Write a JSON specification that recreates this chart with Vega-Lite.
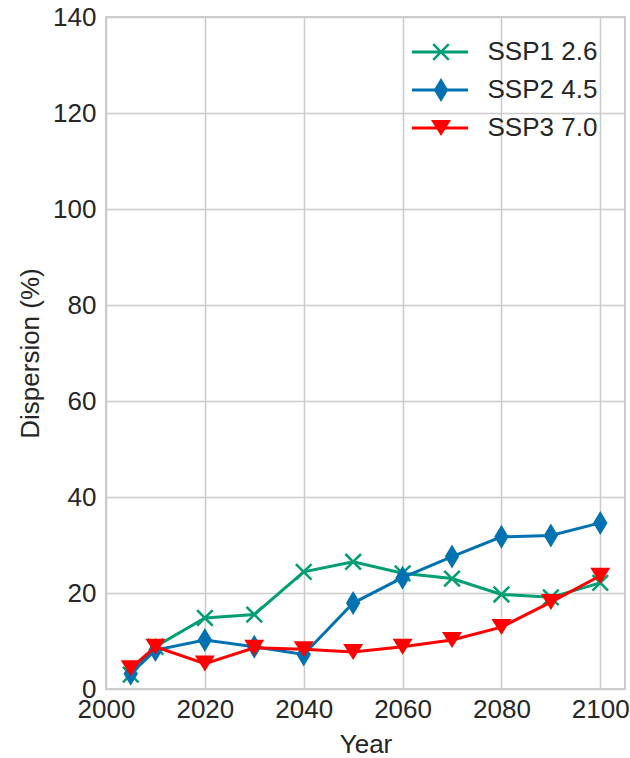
{
  "$schema": "https://vega.github.io/schema/vega-lite/v6.json",
  "width": 519,
  "height": 672,
  "autosize": {"type": "none"},
  "padding": {"left": 106, "top": 17, "right": 5, "bottom": 69},
  "background": "white",
  "title": {"text": "Qatar", "fontSize": 26, "font": "Liberation Sans", "fontWeight": "normal", "color": "#262626", "baseline": "alphabetic", "offset": 13, "anchor": "middle"},
  "config": {
    "view": {"stroke": "#cccccc", "strokeWidth": 2},
    "axis": {"domain": false, "ticks": false, "grid": true, "gridColor": "#cccccc", "gridWidth": 1.6, "labelFont": "Liberation Sans", "labelFontSize": 26, "labelColor": "#262626", "titleFont": "Liberation Sans", "titleFontSize": 26, "titleFontWeight": "normal", "titleColor": "#262626", "labelFlush": false, "labelOverlap": false},
    "legend": {"labelFont": "Liberation Sans", "labelFontSize": 26, "labelColor": "#262626", "padding": 0, "title": null}
  },
  "data": {"values": [
    {"series": "SSP1 2.6", "year": 2005, "value": 3.0},
    {"series": "SSP1 2.6", "year": 2010, "value": 8.8},
    {"series": "SSP1 2.6", "year": 2020, "value": 14.8},
    {"series": "SSP1 2.6", "year": 2030, "value": 15.5},
    {"series": "SSP1 2.6", "year": 2040, "value": 24.4},
    {"series": "SSP1 2.6", "year": 2050, "value": 26.5},
    {"series": "SSP1 2.6", "year": 2060, "value": 24.1},
    {"series": "SSP1 2.6", "year": 2070, "value": 23.0},
    {"series": "SSP1 2.6", "year": 2080, "value": 19.7},
    {"series": "SSP1 2.6", "year": 2090, "value": 19.1},
    {"series": "SSP1 2.6", "year": 2100, "value": 22.1},
    {"series": "SSP2 4.5", "year": 2005, "value": 3.2},
    {"series": "SSP2 4.5", "year": 2010, "value": 8.1},
    {"series": "SSP2 4.5", "year": 2020, "value": 10.2},
    {"series": "SSP2 4.5", "year": 2030, "value": 8.8},
    {"series": "SSP2 4.5", "year": 2040, "value": 7.2},
    {"series": "SSP2 4.5", "year": 2050, "value": 17.9},
    {"series": "SSP2 4.5", "year": 2060, "value": 23.2},
    {"series": "SSP2 4.5", "year": 2070, "value": 27.6},
    {"series": "SSP2 4.5", "year": 2080, "value": 31.7},
    {"series": "SSP2 4.5", "year": 2090, "value": 32.0},
    {"series": "SSP2 4.5", "year": 2100, "value": 34.6},
    {"series": "SSP3 7.0", "year": 2005, "value": 4.3},
    {"series": "SSP3 7.0", "year": 2010, "value": 8.8},
    {"series": "SSP3 7.0", "year": 2020, "value": 5.3},
    {"series": "SSP3 7.0", "year": 2030, "value": 8.6},
    {"series": "SSP3 7.0", "year": 2040, "value": 8.3},
    {"series": "SSP3 7.0", "year": 2050, "value": 7.7},
    {"series": "SSP3 7.0", "year": 2060, "value": 8.8},
    {"series": "SSP3 7.0", "year": 2070, "value": 10.2},
    {"series": "SSP3 7.0", "year": 2080, "value": 12.9},
    {"series": "SSP3 7.0", "year": 2090, "value": 18.1},
    {"series": "SSP3 7.0", "year": 2100, "value": 23.6}
  ]},
  "encoding": {
    "x": {"field": "year", "type": "quantitative", "scale": {"domain": [2000, 2105], "nice": false, "zero": false}, "axis": {"title": "Year", "values": [2000, 2020, 2040, 2060, 2080, 2100], "format": "d", "labelPadding": 7, "titlePadding": 9}},
    "y": {"field": "value", "type": "quantitative", "scale": {"domain": [0, 140], "nice": false}, "axis": {"title": "Dispersion (%)", "values": [0, 20, 40, 60, 80, 100, 120, 140], "labelPadding": 10, "titlePadding": 9}}
  },
  "layer": [
    {
      "transform": [{"filter": "datum.series === 'SSP1 2.6'"}],
      "mark": {"type": "point", "filled": true, "size": 576, "opacity": 1, "strokeWidth": 0},
      "encoding": {
        "fill": {"field": "series", "type": "nominal", "scale": {"domain": ["SSP1 2.6", "SSP2 4.5", "SSP3 7.0"], "range": ["#009E73", "#0072B2", "#ff0000"]}, "legend": {"orient": "top-right", "offset": 19, "clipHeight": 32, "rowPadding": 6, "symbolSize": 576, "symbolStrokeWidth": 0, "labelOffset": 42, "labelColor": "transparent"}},
        "shape": {"field": "series", "type": "nominal", "scale": {"domain": ["SSP1 2.6", "SSP2 4.5", "SSP3 7.0"], "range": ["M-0.576,-0.724L0.724,0.576L0.576,0.724L-0.724,-0.576ZM-0.724,0.576L0.576,-0.724L0.724,-0.576L-0.576,0.724Z", "M0,-1L0.6,0L0,1L-0.6,0Z", "M-0.833,-0.667L0.833,-0.667L0,0.667Z"]}, "legend": {"orient": "top-right", "offset": 19, "clipHeight": 32, "rowPadding": 6, "symbolSize": 576, "symbolStrokeWidth": 0, "labelOffset": 42, "labelColor": "transparent"}}
      }
    },
    {
      "transform": [{"filter": "datum.series === 'SSP1 2.6'"}],
      "mark": {"type": "line", "strokeWidth": 3},
      "encoding": {
        "stroke": {"field": "series", "type": "nominal", "scale": {"domain": ["SSP1 2.6", "SSP2 4.5", "SSP3 7.0"], "range": ["#009E73", "#0072B2", "#ff0000"]}, "legend": {"orient": "none", "legendX": 304.5, "legendY": 19, "clipHeight": 32, "rowPadding": 6, "symbolType": "stroke", "symbolSize": 3136, "symbolStrokeWidth": 3, "labelOffset": 18}}
      }
    },
    {
      "transform": [{"filter": "datum.series === 'SSP2 4.5'"}],
      "mark": {"type": "line", "strokeWidth": 3},
      "encoding": {
        "stroke": {"field": "series", "type": "nominal", "scale": {"domain": ["SSP1 2.6", "SSP2 4.5", "SSP3 7.0"], "range": ["#009E73", "#0072B2", "#ff0000"]}, "legend": {"orient": "none", "legendX": 304.5, "legendY": 19, "clipHeight": 32, "rowPadding": 6, "symbolType": "stroke", "symbolSize": 3136, "symbolStrokeWidth": 3, "labelOffset": 18}}
      }
    },
    {
      "transform": [{"filter": "datum.series === 'SSP2 4.5'"}],
      "mark": {"type": "point", "filled": true, "size": 576, "opacity": 1, "strokeWidth": 0},
      "encoding": {
        "fill": {"field": "series", "type": "nominal", "scale": {"domain": ["SSP1 2.6", "SSP2 4.5", "SSP3 7.0"], "range": ["#009E73", "#0072B2", "#ff0000"]}, "legend": {"orient": "top-right", "offset": 19, "clipHeight": 32, "rowPadding": 6, "symbolSize": 576, "symbolStrokeWidth": 0, "labelOffset": 42, "labelColor": "transparent"}},
        "shape": {"field": "series", "type": "nominal", "scale": {"domain": ["SSP1 2.6", "SSP2 4.5", "SSP3 7.0"], "range": ["M-0.576,-0.724L0.724,0.576L0.576,0.724L-0.724,-0.576ZM-0.724,0.576L0.576,-0.724L0.724,-0.576L-0.576,0.724Z", "M0,-1L0.6,0L0,1L-0.6,0Z", "M-0.833,-0.667L0.833,-0.667L0,0.667Z"]}, "legend": {"orient": "top-right", "offset": 19, "clipHeight": 32, "rowPadding": 6, "symbolSize": 576, "symbolStrokeWidth": 0, "labelOffset": 42, "labelColor": "transparent"}}
      }
    },
    {
      "transform": [{"filter": "datum.series === 'SSP3 7.0'"}],
      "mark": {"type": "line", "strokeWidth": 3},
      "encoding": {
        "stroke": {"field": "series", "type": "nominal", "scale": {"domain": ["SSP1 2.6", "SSP2 4.5", "SSP3 7.0"], "range": ["#009E73", "#0072B2", "#ff0000"]}, "legend": {"orient": "none", "legendX": 304.5, "legendY": 19, "clipHeight": 32, "rowPadding": 6, "symbolType": "stroke", "symbolSize": 3136, "symbolStrokeWidth": 3, "labelOffset": 18}}
      }
    },
    {
      "transform": [{"filter": "datum.series === 'SSP3 7.0'"}],
      "mark": {"type": "point", "filled": true, "size": 576, "opacity": 1, "strokeWidth": 0},
      "encoding": {
        "fill": {"field": "series", "type": "nominal", "scale": {"domain": ["SSP1 2.6", "SSP2 4.5", "SSP3 7.0"], "range": ["#009E73", "#0072B2", "#ff0000"]}, "legend": {"orient": "top-right", "offset": 19, "clipHeight": 32, "rowPadding": 6, "symbolSize": 576, "symbolStrokeWidth": 0, "labelOffset": 42, "labelColor": "transparent"}},
        "shape": {"field": "series", "type": "nominal", "scale": {"domain": ["SSP1 2.6", "SSP2 4.5", "SSP3 7.0"], "range": ["M-0.576,-0.724L0.724,0.576L0.576,0.724L-0.724,-0.576ZM-0.724,0.576L0.576,-0.724L0.724,-0.576L-0.576,0.724Z", "M0,-1L0.6,0L0,1L-0.6,0Z", "M-0.833,-0.667L0.833,-0.667L0,0.667Z"]}, "legend": {"orient": "top-right", "offset": 19, "clipHeight": 32, "rowPadding": 6, "symbolSize": 576, "symbolStrokeWidth": 0, "labelOffset": 42, "labelColor": "transparent"}}
      }
    }
  ]
}
